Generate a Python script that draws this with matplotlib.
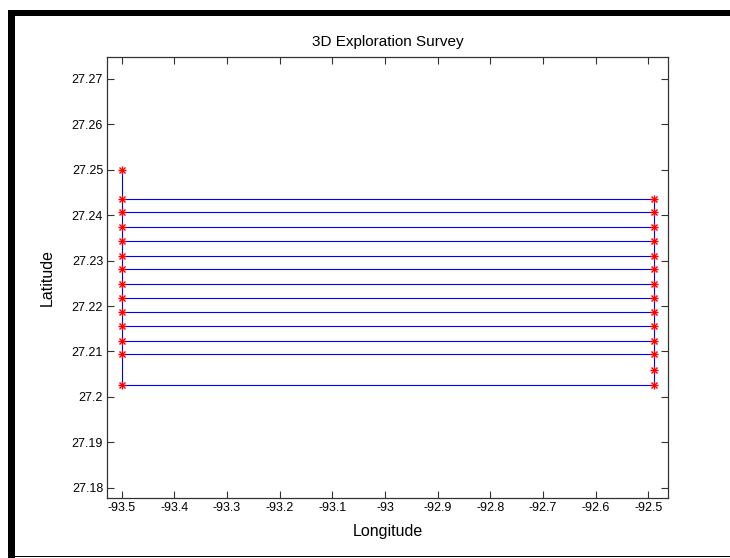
import matplotlib
matplotlib.use("Agg")
import matplotlib.pyplot as plt
from matplotlib.patches import Rectangle

plt.rcParams['font.family'] = ['Liberation Sans', 'DejaVu Sans']

# Survey geometry
lon_west = -93.5
lon_east = -92.489
left_lats = [27.25, 27.2436, 27.2406, 27.2373, 27.2343, 27.2311, 27.2281,
             27.2249, 27.2218, 27.2186, 27.2155, 27.2124, 27.2094, 27.2027]
right_lats = [27.2436, 27.2406, 27.2373, 27.2343, 27.2311, 27.2281, 27.2249,
              27.2218, 27.2186, 27.2155, 27.2124, 27.2094, 27.2059, 27.2027]
line_lats = [27.2436, 27.2406, 27.2373, 27.2343, 27.2311, 27.2281, 27.2249,
             27.2218, 27.2186, 27.2155, 27.2124, 27.2094, 27.2027]
xticks = [-93.5, -93.4, -93.3, -93.2, -93.1, -93.0, -92.9, -92.8, -92.7, -92.6, -92.5]
xtick_labels = ['-93.5', '-93.4', '-93.3', '-93.2', '-93.1', '-93', '-92.9',
                '-92.8', '-92.7', '-92.6', '-92.5']
yticks = [27.18, 27.19, 27.2, 27.21, 27.22, 27.23, 27.24, 27.25, 27.26, 27.27]
ytick_labels = ['27.18', '27.19', '27.2', '27.21', '27.22', '27.23', '27.24',
                '27.25', '27.26', '27.27']

fig = plt.figure(figsize=(7.3, 5.58), dpi=100)
fig.patch.set_facecolor('white')
ax = fig.add_axes([0.147, 0.1075, 0.7677, 0.7909])

blue = (0, 0, 1)
# horizontal survey lines
for lat in line_lats:
    ax.plot([lon_west, lon_east], [lat, lat], color=blue, lw=0.8)
# vertical connectors
ax.plot([lon_west, lon_west], [max(left_lats), min(left_lats)], color=blue, lw=0.8)
ax.plot([lon_east, lon_east], [max(right_lats), min(right_lats)], color=blue, lw=0.8)

# markers (MATLAB-style asterisk = plus + x)
for lons, lats in [([lon_west] * len(left_lats), left_lats),
                   ([lon_east] * len(right_lats), right_lats)]:
    ax.plot(lons, lats, ls='none', marker='+', ms=5.5, mew=1.0, color='red')
    ax.plot(lons, lats, ls='none', marker='x', ms=4.0, mew=1.0, color='red')

ax.set_xlim(-93.5273, -92.4632)
ax.set_ylim(27.17773, 27.2749)
ax.set_xticks(xticks)
ax.set_xticklabels(xtick_labels)
ax.set_yticks(yticks)
ax.set_yticklabels(ytick_labels)
ax.tick_params(direction='in', length=5, width=0.8, top=True, right=True,
               labelsize=9, color='#333333', pad=3)
for s in ax.spines.values():
    s.set_linewidth(0.9)
    s.set_color('#333333')

ax.set_title('3D Exploration Survey', fontsize=11, pad=8)
ax.set_xlabel('Longitude', fontsize=11.5, labelpad=7)
ax.set_ylabel('Latitude', fontsize=11.5, labelpad=12)

# screenshot frame
W, H = 730, 558
def rect(x0, y0, x1, y1):
    fig.patches.append(Rectangle((x0 / W, 1 - y1 / H), (x1 - x0) / W, (y1 - y0) / H,
                                 transform=fig.transFigure, facecolor='black',
                                 edgecolor='none', zorder=10))
rect(8, 10, 15, 558)
rect(8, 10, 730, 16)
rect(8, 555.5, 730, 557)

fig.savefig('out.png', dpi=100)
